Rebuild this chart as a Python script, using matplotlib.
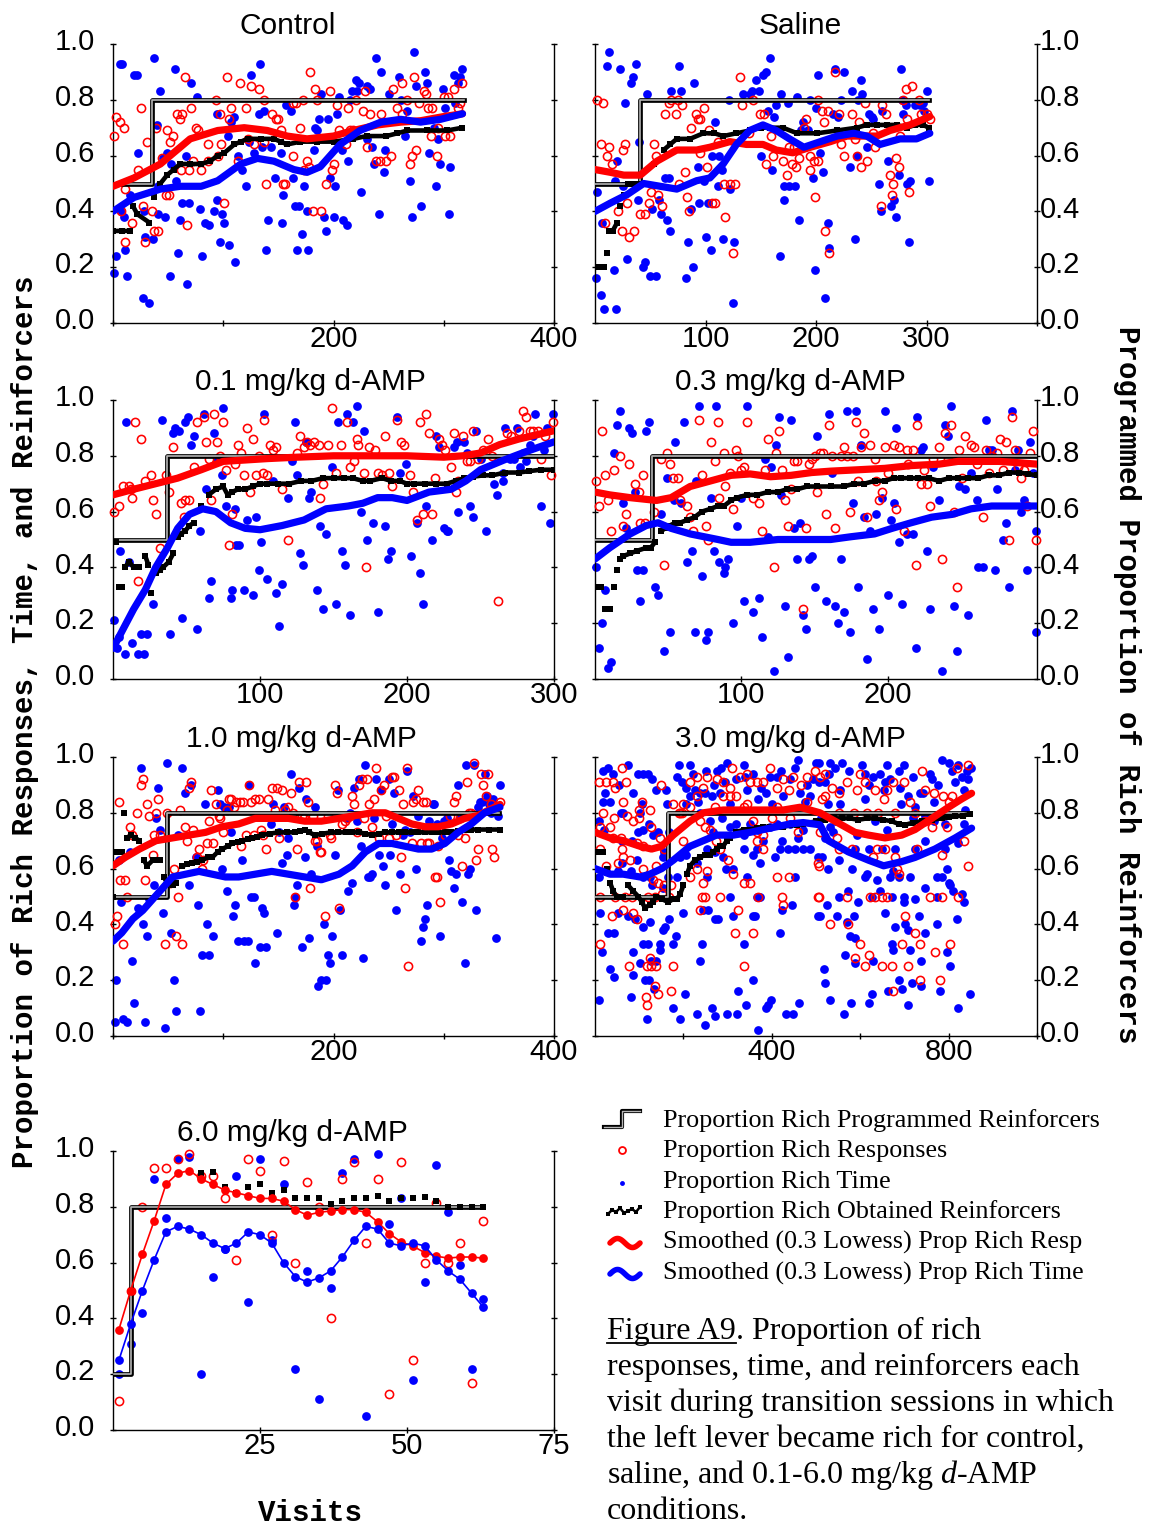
import numpy as np
import matplotlib
matplotlib.use("Agg")
import matplotlib.pyplot as plt
import matplotlib.patheffects as pe

plt.rcParams['font.family'] = ['Liberation Sans', 'DejaVu Sans']
plt.rcParams['mathtext.fontset'] = 'custom'
plt.rcParams['mathtext.rm'] = 'Liberation Serif'
plt.rcParams['mathtext.it'] = 'Liberation Serif:italic'

# ---------------- data: (visit, proportion) ----------------
# Control
ctrl_time = [(6,.93),(8,.93),(19,.89),(22,.89),(37,.95),(56,.91),(71,.86),(43,.83),(76,.81),(133,.93),(125,.89),(239,.95),(273,.97),(243,.90),(283,.90),(317,.91),(309,.89),(315,.88),(313,.86),(259,.88),(285,.86),(275,.85),(220,.87),(223,.86),(230,.85),(233,.84),(217,.83),(221,.83),(299,.84),(189,.82),(205,.81),(215,.80),(250,.82),(261,.80),(267,.76),(310,.79),(301,.77),(157,.78),(161,.76),(137,.76),(132,.75),(94,.75),(110,.74),(107,.72),(187,.73),(195,.73),(203,.75),(183,.70),(185,.69),(291,.70),(295,.66),(265,.67),(40,.71),(23,.61),(49,.61),(45,.59),(53,.57),(66,.60),(104,.67),(123,.65),(113,.60),(128,.61),(135,.63),(143,.63),(152,.61),(182,.62),(208,.62),(230,.66),(235,.63),(247,.62),(287,.61),(297,.57),(306,.56),(269,.51),(246,.54),(237,.57),(213,.58),(225,.47),(201,.49),(197,.52),(173,.49),(163,.52),(147,.52),(154,.46),(121,.49),(117,.55),(57,.51),(41,.49),(15,.46),(7,.40),(10,.38),(63,.43),(69,.43),(79,.41),(94,.44),(92,.40),(99,.39),(101,.36),(83,.36),(87,.35),(61,.37),(47,.38),(41,.39),(28,.40),(141,.37),(153,.36),(165,.42),(169,.42),(176,.40),(191,.38),(200,.38),(209,.37),(212,.35),(241,.39),(271,.38),(279,.42),(305,.39),(293,.49),(171,.32),(193,.33),(139,.26),(167,.26),(177,.26),(97,.29),(105,.28),(111,.22),(81,.24),(59,.25),(36,.30),(29,.31),(11,.26),(3,.24),(1,.18),(13,.17),(52,.17),(67,.14),(27,.09),(33,.07)]
ctrl_resp = [(3,.74),(6,.72),(10,.70),(1,.67),(25,.77),(31,.65),(39,.70),(49,.69),(54,.67),(52,.65),(58,.75),(63,.75),(61,.73),(65,.88),(71,.77),(75,.70),(77,.69),(86,.64),(93,.80),(97,.75),(103,.88),(107,.77),(105,.73),(115,.86),(121,.77),(125,.85),(132,.84),(122,.66),(128,.64),(137,.80),(144,.75),(148,.73),(150,.73),(152,.69),(137,.65),(163,.79),(166,.79),(172,.80),(170,.70),(179,.90),(183,.84),(185,.80),(197,.83),(203,.78),(213,.77),(205,.69),(215,.69),(218,.69),(220,.80),(229,.83),(227,.76),(233,.75),(243,.75),(254,.84),(262,.86),(258,.77),(262,.75),(267,.80),(273,.88),(278,.79),(282,.83),(284,.82),(286,.77),(289,.77),(300,.81),(304,.81),(309,.84),(317,.86),(315,.79),(313,.77),(295,.70),(288,.67),(301,.67),(306,.67),(294,.60),(271,.60),(275,.62),(269,.57),(252,.60),(248,.58),(242,.58),(239,.58),(230,.63),(211,.64),(200,.57),(199,.55),(193,.50),(176,.58),(178,.56),(163,.60),(154,.50),(156,.50),(139,.50),(113,.58),(95,.60),(86,.58),(80,.55),(73,.58),(69,.55),(62,.55),(48,.46),(51,.46),(44,.59),(23,.55),(11,.48),(27,.42),(35,.40),(17,.36),(7,.40),(37,.33),(41,.33),(67,.35),(101,.43),(11,.29),(29,.29),(181,.40),(189,.40),(98,.64),(173,.55)]
ctrl_obt = [(0,.33),(8,.33),(15,.33),(18,.42),(22,.39),(33,.36),(37,.45),(43,.50),(49,.53),(55,.55),(61,.57),(70,.57),(80,.57),(88,.58),(95,.60),(101,.61),(110,.64),(116,.65),(122,.66),(134,.66),(146,.66),(152,.65),(158,.64),(170,.65),(185,.65),(200,.65),(218,.66),(230,.67),(248,.67),(258,.68),(267,.69),(285,.69),(303,.69),(317,.70)]
ctrl_sresp = [(0,.49),(19,.52),(43,.57),(70,.66),(95,.69),(119,.70),(140,.69),(158,.67),(176,.66),(200,.67),(218,.69),(240,.71),(261,.72),(279,.725),(300,.74),(317,.75)]
ctrl_stime = [(0,.40),(19,.45),(43,.48),(61,.49),(80,.49),(95,.51),(116,.57),(131,.59),(146,.58),(164,.55),(176,.54),(188,.56),(206,.64),(224,.69),(243,.72),(261,.73),(279,.72),(297,.73),(317,.75)]
ctrl_prog_x = [0, 35, 318]
ctrl_prog_y = [0.5, 0.8, 0.8]

# Saline
sal_time = [(13,.97),(11,.92),(23,.91),(37,.93),(34,.88),(33,.86),(27,.79),(76,.92),(90,.86),(78,.83),(69,.83),(47,.82),(158,.95),(155,.90),(152,.89),(146,.87),(148,.83),(142,.83),(140,.82),(134,.82),(168,.82),(183,.81),(175,.79),(164,.78),(157,.76),(162,.74),(202,.89),(217,.91),(225,.90),(241,.87),(233,.83),(242,.82),(238,.80),(223,.80),(215,.75),(220,.74),(200,.77),(195,.80),(188,.72),(186,.69),(193,.69),(277,.91),(300,.83),(278,.80),(281,.78),(290,.78),(294,.78),(297,.79),(298,.76),(279,.75),(260,.76),(248,.75),(251,.74),(252,.73),(246,.63),(237,.60),(231,.56),(265,.58),(275,.53),(285,.51),(282,.50),(302,.51),(257,.50),(259,.40),(268,.42),(271,.44),(272,.38),(284,.29),(109,.72),(106,.60),(93,.56),(112,.60),(121,.80),(122,.48),(111,.49),(115,.55),(40,.65),(20,.58),(2,.47),(25,.49),(18,.51),(63,.52),(67,.52),(68,.33),(65,.37),(60,.39),(58,.44),(52,.41),(39,.44),(87,.41),(94,.43),(102,.43),(99,.51),(84,.29),(100,.31),(105,.26),(116,.30),(126,.29),(89,.20),(82,.16),(50,.17),(55,.17),(43,.20),(45,.22),(29,.23),(17,.19),(1,.16),(5,.10),(8,.05),(19,.05),(125,.07),(167,.24),(185,.37),(199,.19),(208,.09),(211,.36),(212,.27),(206,.54),(197,.52),(171,.49),(176,.49),(181,.49),(171,.44),(160,.55),(150,.60),(6,.36),(204,.61),(235,.30)]
sal_resp = [(2,.80),(7,.79),(5,.64),(13,.63),(11,.60),(15,.57),(25,.62),(27,.64),(9,.36),(21,.40),(24,.33),(31,.31),(35,.33),(29,.43),(41,.39),(45,.39),(49,.43),(51,.47),(57,.46),(53,.64),(55,.60),(61,.42),(63,.75),(67,.79),(69,.80),(73,.75),(75,.80),(79,.78),(81,.54),(76,.50),(83,.45),(85,.40),(87,.70),(91,.75),(93,.73),(95,.73),(99,.77),(101,.56),(103,.69),(95,.61),(106,.43),(109,.43),(111,.65),(118,.38),(117,.50),(122,.50),(127,.50),(125,.25),(131,.88),(133,.78),(143,.80),(139,.68),(149,.75),(153,.75),(159,.67),(155,.57),(161,.60),(170,.58),(174,.53),(178,.57),(176,.63),(180,.63),(182,.56),(185,.59),(189,.70),(191,.73),(195,.60),(195,.55),(198,.58),(202,.58),(199,.45),(202,.80),(205,.76),(207,.72),(211,.76),(217,.90),(208,.33),(212,.25),(221,.75),(223,.64),(225,.60),(233,.75),(235,.66),(237,.60),(241,.56),(239,.72),(244,.79),(246,.58),(252,.68),(253,.63),(259,.42),(260,.78),(263,.75),(267,.53),(270,.50),(269,.46),(272,.59),(275,.56),(281,.84),(287,.85),(293,.80),(295,.75),(279,.80),(284,.47),(276,.67),(282,.73),(303,.73),(300,.75)]
sal_obt = [(0,.20),(4,.20),(8,.20),(11,.25),(13,.33),(16,.33),(20,.36),(23,.42),(26,.46),(30,.50),(35,.50),(40,.50),(44,.50),(53,.57),(62,.62),(68,.64),(74,.66),(86,.66),(98,.68),(108,.68),(116,.67),(128,.68),(140,.69),(150,.70),(158,.70),(170,.70),(183,.68),(201,.68),(219,.69),(237,.70),(246,.71),(255,.71),(264,.71),(273,.71),(282,.70),(290,.71),(297,.71),(302,.70)]
sal_sresp = [(0,.55),(14,.54),(26,.53),(41,.53),(56,.58),(74,.62),(92,.62),(104,.63),(122,.65),(137,.64),(152,.64),(164,.62),(179,.61),(195,.63),(213,.65),(228,.67),(243,.67),(255,.67),(267,.69),(285,.71),(303,.74)]
sal_stime = [(0,.40),(14,.43),(29,.46),(44,.50),(59,.49),(74,.48),(92,.51),(104,.52),(116,.57),(128,.64),(140,.69),(152,.71),(164,.69),(176,.66),(189,.63),(204,.65),(219,.67),(234,.68),(246,.67),(258,.64),(276,.66),(291,.66),(303,.68)]
sal_prog_x = [0, 41, 302]
sal_prog_y = [0.5, 0.8, 0.8]

# 0.1 mg/kg
d01_time = [(1,.21),(3,.11),(4,.15),(8,.09),(13,.13),(17,.09),(21,.09),(19,.16),(23,.16),(27,.27),(5,.46),(9,.92),(11,.42),(33,.93),(39,.16),(41,.88),(42,.90),(45,.89),(47,.22),(49,.92),(51,.94),(53,.84),(55,.87),(57,.18),(59,.53),(62,.95),(63,.68),(65,.29),(67,.35),(69,.88),(71,.78),(74,.73),(75,.97),(77,.62),(80,.29),(81,.32),(83,.61),(84,.48),(86,.48),(89,.32),(91,.57),(95,.30),(97,.58),(99,.39),(101,.49),(103,.95),(105,.36),(109,.71),(111,.31),(113,.19),(115,.34),(119,.65),(122,.78),(124,.92),(125,.73),(127,.45),(129,.41),(131,.85),(133,.65),(135,.67),(139,.32),(141,.55),(143,.25),(145,.52),(149,.76),(152,.27),(153,.92),(156,.46),(158,.41),(159,.95),(161,.23),(163,.92),(166,.98),(169,.60),(171,.89),(173,.50),(177,.56),(180,.24),(185,.55),(187,.43),(189,.46),(193,.94),(195,.74),(199,.77),(203,.44),(207,.56),(209,.38),(211,.27),(213,.62),(217,.50),(220,.87),(222,.83),(225,.54),(227,.53),(228,.53),(232,.83),(235,.60),(239,.85),(241,.81),(243,.62),(245,.58),(247,.89),(250,.79),(254,.53),(259,.70),(261,.66),(265,.74),(267,.90),(270,.79),(273,.79),(275,.90),(279,.81),(281,.78),(284,.84),(287,.95),(291,.62),(293,.82),(295,.90),(297,.56),(299,.95),(286,.87),(265,.71),(277,.76),(234,.85)]
d01_resp = [(1,.60),(4,.62),(7,.69),(11,.69),(12,.68),(13,.65),(15,.92),(19,.86),(22,.71),(26,.73),(27,.64),(29,.59),(17,.35),(32,.47),(36,.73),(38,.67),(41,.83),(46,.63),(48,.58),(49,.64),(52,.64),(55,.76),(57,.92),(62,.94),(63,.85),(65,.79),(67,.64),(69,.95),(71,.85),(73,.80),(75,.92),(77,.75),(79,.48),(81,.59),(83,.77),(85,.84),(87,.81),(89,.73),(91,.90),(93,.67),(95,.86),(97,.73),(99,.80),(102,.74),(103,.93),(105,.73),(107,.84),(109,.82),(111,.83),(115,.68),(119,.50),(125,.81),(127,.87),(130,.83),(132,.85),(134,.84),(137,.85),(140,.84),(141,.65),(143,.70),(146,.84),(149,.97),(152,.74),(155,.84),(159,.92),(161,.76),(164,.78),(166,.86),(167,.84),(171,.74),(172,.40),(174,.83),(178,.82),(180,.74),(183,.73),(185,.87),(188,.74),(190,.69),(193,.93),(196,.85),(198,.84),(202,.73),(204,.67),(207,.57),(209,.92),(211,.59),(213,.95),(215,.88),(217,.59),(219,.72),(222,.86),(224,.84),(226,.82),(230,.76),(232,.88),(233,.67),(235,.71),(238,.87),(241,.78),(243,.78),(245,.89),(248,.79),(252,.82),(255,.86),(258,.80),(262,.28),(268,.88),(271,.87),(276,.89),(279,.96),(281,.94),(284,.89),(286,.89),(289,.89),(291,.79),(294,.87),(298,.73),(299,.92)]
d01_obt = [(2,.49),(4,.33),(6,.33),(8,.40),(11,.42),(14,.40),(16,.40),(18,.40),(22,.44),(24,.41),(26,.31),(29,.38),(32,.39),(34,.40),(38,.42),(41,.45),(44,.51),(46,.52),(49,.53),(52,.55),(55,.56),(60,.62),(65,.66),(70,.68),(75,.69),(78,.66),(81,.67),(85,.68),(90,.68),(95,.69),(100,.70),(105,.70),(112,.70),(120,.70),(128,.71),(135,.71),(143,.72),(150,.72),(157,.72),(163,.72),(170,.71),(175,.71),(183,.72),(189,.71),(195,.71),(200,.70),(205,.70),(212,.70),(220,.70),(227,.70),(233,.71),(239,.72),(245,.725),(252,.73),(258,.73),(267,.74),(276,.74),(283,.745),(291,.75),(300,.75)]
d01_sresp = [(0,.66),(14,.68),(29,.70),(44,.72),(60,.75),(75,.78),(90,.785),(105,.79),(125,.795),(150,.80),(175,.80),(200,.80),(225,.795),(238,.80),(250,.81),(263,.84),(276,.86),(300,.89)]
d01_stime = [(0,.11),(7,.18),(14,.25),(22,.32),(29,.40),(37,.47),(44,.54),(52,.59),(61,.61),(70,.60),(80,.56),(90,.54),(100,.535),(115,.55),(130,.57),(145,.61),(160,.62),(170,.63),(180,.65),(190,.65),(200,.64),(215,.67),(230,.68),(240,.71),(250,.75),(266,.785),(281,.815),(300,.85)]
d01_prog_x = [0, 37, 300]
d01_prog_y = [0.5, 0.8, 0.8]

# 0.3 mg/kg
d03_time = [(17,.96),(15,.91),(23,.90),(25,.88),(35,.89),(37,.92),(13,.81),(19,.63),(21,.54),(27,.67),(1,.40),(7,.32),(29,.39),(33,.39),(31,.28),(41,.33),(43,.30),(45,.59),(49,.72),(55,.85),(54,.64),(61,.92),(59,.63),(66,.46),(63,.42),(69,.71),(71,.98),(73,.37),(79,.65),(81,.46),(83,.98),(85,.42),(88,.38),(89,.40),(91,.43),(94,.20),(97,.55),(100,.65),(102,.28),(104,.98),(108,.24),(112,.29),(114,.15),(116,.79),(120,.76),(118,.51),(122,.03),(124,.84),(126,.94),(127,.66),(130,.26),(132,.08),(134,.93),(136,.54),(138,.43),(140,.56),(142,.23),(144,.18),(146,.43),(148,.44),(150,.33),(152,.87),(158,.28),(160,.95),(162,.74),(164,.26),(166,.20),(168,.43),(170,.24),(172,.96),(174,.17),(176,.63),(178,.96),(180,.33),(182,.84),(184,.58),(186,.07),(188,.53),(190,.25),(192,.59),(194,.18),(196,.65),(198,.96),(200,.30),(202,.57),(204,.63),(206,.90),(208,.49),(210,.27),(213,.52),(217,.52),(219,.11),(220,.94),(223,.82),(224,.83),(227,.46),(229,.25),(231,.76),(235,.64),(237,.03),(239,.91),(241,.87),(243,.98),(245,.26),(247,.10),(249,.69),(253,.68),(255,.23),(257,.74),(261,.64),(262,.40),(265,.40),(267,.93),(269,.82),(271,.82),(273,.39),(275,.68),(279,.50),(281,.56),(283,.33),(285,.96),(287,.75),(289,.82),(291,.60),(293,.64),(295,.39),(297,.85),(299,.74),(301,.17),(301,.53),(3,.11),(5,.20),(9,.04),(11,.06),(47,.10),(51,.17),(68,.17),(76,.14),(77,.17)]
d03_resp = [(1,.71),(3,.62),(5,.89),(7,.73),(9,.64),(13,.75),(17,.80),(23,.77),(11,.53),(19,.55),(21,.59),(27,.70),(30,.67),(31,.56),(33,.73),(34,.56),(40,.60),(45,.79),(49,.81),(47,.41),(51,.77),(53,.72),(57,.72),(58,.64),(63,.62),(65,.58),(67,.53),(71,.93),(73,.73),(76,.55),(77,.50),(79,.85),(82,.78),(84,.92),(85,.65),(88,.81),(89,.69),(92,.74),(94,.61),(96,.82),(98,.80),(100,.75),(102,.76),(104,.92),(108,.65),(112,.63),(114,.53),(116,.75),(118,.86),(122,.40),(124,.81),(126,.89),(128,.75),(130,.64),(132,.55),(134,.68),(136,.78),(138,.78),(142,.25),(144,.54),(146,.77),(148,.79),(150,.80),(152,.67),(154,.81),(156,.81),(158,.59),(160,.91),(162,.80),(164,.54),(168,.80),(170,.83),(172,.80),(174,.60),(176,.80),(178,.92),(180,.71),(182,.83),(184,.88),(186,.58),(188,.84),(191,.79),(192,.71),(194,.64),(196,.67),(198,.83),(200,.74),(204,.84),(206,.61),(208,.83),(211,.53),(213,.82),(214,.77),(217,.82),(219,.41),(220,.91),(223,.70),(225,.75),(227,.70),(229,.62),(231,.79),(235,.83),(237,.43),(239,.88),(241,.79),(243,.91),(245,.60),(247,.33),(249,.82),(251,.72),(253,.87),(255,.79),(257,.84),(259,.83),(261,.77),(265,.58),(267,.82),(269,.74),(271,.80),(275,.81),(277,.86),(279,.75),(281,.85),(283,.50),(285,.94),(287,.82),(289,.76),(291,.72),(293,.75),(295,.62),(297,.81),(299,.89),(301,.50)]
d03_obt = [(0,.33),(2,.33),(4,.33),(7,.25),(10,.25),(13,.33),(15,.39),(17,.43),(19,.44),(24,.45),(29,.46),(35,.47),(38,.47),(41,.49),(45,.53),(48,.54),(51,.55),(55,.56),(58,.56),(63,.57),(68,.58),(73,.60),(79,.61),(84,.62),(88,.62),(93,.64),(97,.65),(104,.66),(111,.66),(118,.67),(125,.67),(131,.68),(138,.68),(145,.69),(152,.69),(161,.69),(170,.69),(177,.70),(184,.70),(191,.71),(198,.71),(204,.72),(209,.72),(215,.72),(221,.72),(228,.72),(235,.71),(242,.72),(248,.72),(255,.72),(262,.72),(269,.73),(276,.73),(283,.74),(290,.74),(296,.735),(302,.73)]
d03_sresp = [(0,.67),(10,.66),(24,.65),(42,.64),(52,.65),(65,.69),(79,.71),(93,.73),(106,.735),(120,.725),(134,.73),(148,.74),(161,.745),(180,.75),(198,.755),(216,.765),(235,.77),(248,.78),(262,.78),(276,.78),(290,.775),(302,.77)]
d03_stime = [(0,.43),(10,.47),(24,.52),(35,.55),(43,.56),(52,.54),(65,.52),(84,.50),(93,.49),(106,.49),(125,.50),(143,.50),(161,.50),(175,.51),(191,.52),(203,.54),(216,.56),(230,.58),(244,.59),(257,.61),(271,.62),(287,.62),(302,.62)]
d03_prog_x = [0, 39, 302]
d03_prog_y = [0.5, 0.8, 0.8]

# 1.0 mg/kg
d10_time = [(2,.05),(3,.20),(5,.63),(7,.48),(9,.06),(13,.05),(15,.66),(17,.27),(19,.12),(23,.46),(25,.96),(27,.40),(29,.05),(31,.36),(33,.49),(37,.54),(39,.78),(41,.89),(43,.74),(45,.44),(47,.03),(49,.98),(53,.37),(55,.20),(57,.09),(59,.72),(63,.96),(65,.87),(69,.54),(71,.90),(75,.64),(77,.47),(79,.09),(81,.29),(83,.83),(85,.40),(87,.29),(91,.36),(95,.88),(97,.83),(99,.60),(101,.82),(103,.52),(105,.82),(107,.73),(109,.43),(111,.47),(113,.34),(117,.63),(119,.34),(122,.34),(123,.90),(125,.50),(128,.50),(129,.26),(133,.32),(135,.46),(137,.44),(139,.32),(143,.76),(145,.83),(149,.37),(151,.73),(153,.62),(155,.82),(158,.65),(159,.71),(161,.94),(164,.47),(165,.50),(167,.54),(169,.89),(171,.32),(174,.64),(175,.85),(178,.35),(180,.58),(183,.82),(185,.68),(186,.18),(189,.20),(191,.40),(193,.20),(195,.29),(197,.26),(199,.36),(201,.65),(204,.88),(206,.45),(208,.29),(211,.78),(213,.52),(215,.80),(217,.55),(219,.89),(221,.77),(223,.92),(225,.68),(227,.28),(229,.97),(231,.57),(233,.57),(235,.58),(237,.78),(239,.92),(241,.65),(243,.88),(245,.61),(247,.54),(250,.92),(251,.65),(253,.76),(255,.87),(257,.45),(260,.58),(263,.72),(265,.74),(267,.95),(269,.73),(272,.86),(275,.60),(277,.79),(279,.34),(281,.39),(283,.42),(285,.47),(287,.77),(290,.83),(291,.83),(294,.76),(297,.36),(298,.71),(300,.77),(303,.78),(305,.63),(307,.59),(309,.53),(311,.58),(313,.90),(315,.78),(317,.48),(319,.26),(320,.97),(322,.58),(324,.60),(327,.97),(329,.45),(331,.82),(333,.84),(335,.84),(337,.94),(339,.86),(341,.83),(343,.80),(345,.85),(347,.35),(349,.79),(351,.90)]
d10_resp = [(2,.40),(4,.43),(5,.84),(6,.56),(11,.56),(9,.33),(13,.50),(15,.75),(17,.72),(22,.80),(25,.90),(27,.92),(29,.56),(31,.83),(33,.79),(36,.65),(37,.72),(39,.80),(41,.85),(43,.72),(47,.33),(49,.80),(52,.55),(55,.60),(57,.36),(59,.50),(61,.81),(63,.33),(65,.75),(67,.70),(69,.89),(71,.91),(73,.74),(76,.64),(78,.67),(81,.60),(82,.63),(85,.69),(87,.77),(89,.88),(91,.69),(93,.83),(96,.79),(97,.78),(100,.73),(103,.81),(105,.85),(107,.85),(110,.82),(112,.84),(115,.84),(116,.68),(118,.84),(121,.72),(123,.90),(125,.84),(128,.72),(129,.85),(132,.85),(134,.74),(136,.72),(139,.67),(141,.85),(144,.89),(147,.81),(149,.89),(151,.71),(153,.88),(156,.81),(159,.82),(161,.87),(163,.80),(165,.50),(167,.67),(169,.91),(171,.79),(173,.78),(175,.91),(177,.84),(179,.53),(181,.79),(183,.70),(185,.70),(188,.66),(189,.66),(192,.43),(195,.79),(197,.72),(198,.71),(201,.90),(203,.87),(205,.46),(208,.76),(210,.77),(212,.78),(215,.79),(217,.86),(219,.83),(221,.73),(223,.90),(226,.92),(228,.78),(230,.92),(232,.83),(235,.75),(237,.85),(239,.96),(241,.71),(243,.88),(246,.90),(248,.79),(250,.71),(253,.93),(255,.93),(257,.72),(259,.88),(261,.64),(263,.83),(265,.53),(267,.96),(268,.25),(271,.69),(272,.84),(275,.85),(277,.88),(279,.69),(281,.84),(284,.84),(285,.69),(287,.69),(292,.57),(294,.57),(295,.68),(297,.48),(301,.72),(306,.79),(309,.84),(311,.86),(313,.72),(315,.78),(317,.61),(319,.71),(321,.91),(323,.80),(325,.80),(327,.98),(329,.63),(331,.67),(334,.94),(336,.90),(338,.86),(340,.94),(343,.83),(344,.67),(346,.64),(351,.84)]
d10_obt = [(0,.50),(2,.66),(5,.66),(8,.66),(10,.80),(13,.71),(16,.72),(20,.71),(24,.70),(28,.63),(31,.61),(36,.63),(40,.63),(43,.63),(46,.57),(49,.55),(54,.54),(57,.55),(63,.61),(67,.615),(72,.62),(76,.625),(81,.63),(86,.64),(90,.64),(95,.66),(99,.67),(104,.68),(108,.69),(113,.695),(117,.70),(122,.705),(126,.71),(131,.715),(135,.72),(142,.725),(150,.73),(158,.73),(165,.73),(170,.735),(174,.74),(178,.73),(183,.72),(190,.725),(198,.73),(204,.73),(211,.73),(217,.73),(223,.73),(229,.725),(235,.72),(241,.725),(247,.73),(253,.73),(259,.73),(265,.73),(271,.73),(277,.73),(283,.73),(289,.73),(295,.73),(301,.73),(307,.73),(313,.735),(319,.74),(325,.74),(331,.74),(341,.74),(351,.74)]
d10_sresp = [(0,.61),(11,.64),(24,.67),(39,.70),(54,.71),(69,.72),(84,.73),(99,.75),(114,.76),(129,.78),(144,.78),(159,.78),(174,.77),(189,.77),(205,.78),(220,.79),(235,.80),(247,.80),(259,.78),(271,.76),(283,.75),(295,.75),(307,.76),(319,.78),(331,.79),(351,.83)]
d10_stime = [(0,.34),(8,.37),(18,.42),(27,.45),(36,.49),(45,.53),(54,.57),(66,.58),(78,.59),(90,.58),(102,.57),(114,.57),(129,.58),(144,.59),(159,.58),(174,.57),(189,.56),(205,.58),(217,.61),(229,.66),(241,.69),(253,.69),(265,.68),(277,.67),(289,.67),(301,.69),(313,.73),(325,.76),(337,.80),(351,.82)]
d10_prog_x = [0, 49, 350]
d10_prog_y = [0.5, 0.8, 0.8]

# 3.0 mg/kg
d30_time = [(17,.95),(40,.94),(75,.97),(98,.94),(109,.94),(121,.94),(23,.87),(19,.84),(34,.84),(58,.80),(64,.80),(87,.87),(106,.83),(102,.80),(139,.88),(162,.83),(10,.77),(20,.74),(60,.70),(83,.70),(98,.73),(109,.74),(123,.76),(132,.72),(143,.73),(153,.64),(168,.73),(155,.66),(94,.63),(60,.62),(8,.57),(25,.59),(51,.59),(81,.59),(109,.57),(124,.57),(130,.54),(153,.53),(166,.57),(185,.57),(11,.44),(30,.37),(43,.37),(15,.30),(53,.44),(75,.43),(90,.42),(109,.39),(124,.41),(153,.38),(158,.39),(168,.42),(183,.36),(176,.33),(109,.33),(121,.33),(147,.33),(87,.30),(102,.26),(126,.27),(113,.20),(123,.20),(133,.17),(85,.22),(35,.24),(43,.21),(147,.31),(8,.13),(81,.14),(117,.06),(138,.27),(189,.97),(196,.91),(207,.89),(215,.97),(221,.94),(226,.88),(215,.86),(207,.83),(234,.84),(238,.87),(249,.87),(264,.86),(275,.95),(298,.98),(294,.91),(283,.87),(305,.83),(320,.92),(336,.97),(343,.88),(358,.94),(369,.85),(375,.89),(388,.87),(400,.83),(411,.93),(426,.86),(441,.92),(452,.96),(460,.99),(464,.87),(475,.84),(494,.92),(486,.86),(501,.98),(238,.80),(260,.77),(268,.73),(287,.78),(305,.75),(320,.76),(337,.72),(351,.76),(369,.74),(381,.70),(396,.75),(411,.76),(422,.70),(441,.76),(460,.71),(471,.74),(486,.67),(192,.64),(207,.65),(230,.62),(253,.67),(271,.66),(290,.64),(313,.60),(253,.57),(296,.60),(336,.67),(366,.67),(358,.65),(373,.62),(407,.64),(418,.67),(437,.67),(452,.67),(471,.67),(505,.64),(345,.57),(366,.50),(305,.50),(313,.43),(357,.43),(362,.43),(373,.50),(418,.37),(422,.45),(446,.47),(452,.57),(505,.43),(200,.44),(245,.45),(256,.45),(271,.42),(279,.42),(241,.33),(336,.33),(238,.27),(358,.20),(264,.10),(271,.07),(298,.08),(324,.16),(342,.11),(369,.02),(387,.10),(392,.11),(398,.13),(432,.08),(449,.08),(462,.12),(322,.08),(249,.04),(192,.06),(204,.15),(177,.10),(230,.08),
            (506,.98),(532,.98),(543,.96),(558,.98),(506,.91),(521,.91),(555,.88),(604,.97),(611,.94),(630,.93),(645,.94),(660,.97),(687,.95),(653,.88),(656,.91),(668,.92),(720,.93),(758,.94),(762,.92),(735,.87),(709,.86),(743,.87),(784,.99),(800,.98),(822,.97),(841,.95),(845,.92),(834,.88),(815,.91),(807,.95),(766,.84),(724,.82),(693,.83),(611,.85),(555,.83),(528,.83),(512,.78),(543,.77),(532,.75),(521,.71),(539,.73),(592,.72),(634,.77),(660,.74),(720,.78),(747,.79),(766,.77),(792,.76),(837,.81),(834,.76),(822,.69),(792,.67),(747,.70),(724,.67),(679,.67),(649,.67),(619,.67),(588,.67),(551,.63),(513,.64),(528,.60),(581,.60),(611,.57),(615,.58),(637,.56),(668,.57),(675,.59),(687,.57),(713,.57),(747,.53),(773,.57),(784,.57),(796,.60),(800,.55),(803,.54),(811,.52),(830,.51),(834,.48),(773,.50),(724,.49),(700,.48),(698,.50),(671,.50),(645,.52),(626,.50),(596,.48),(573,.52),(551,.50),(524,.47),(509,.43),(547,.43),(570,.41),(587,.43),(656,.44),(732,.43),(702,.40),(679,.39),(709,.38),(747,.37),(773,.40),(818,.42),(577,.36),(588,.35),(566,.29),(588,.26),(630,.27),(671,.33),(675,.31),(713,.31),(738,.27),(796,.30),(803,.25),(519,.24),(521,.19),(532,.13),(579,.12),(564,.08),(619,.12),(626,.15),(664,.16),(687,.20),(694,.17),(709,.11),(717,.19),(738,.18),(781,.16),(822,.10),(849,.15),
            (30,.96),(55,.90),(128,.92),(185,.93),(250,.95),(285,.96),(340,.93),(420,.95),(480,.90),(575,.95),(620,.90),(700,.97),(775,.90),(830,.93),(850,.96),(160,.88),(270,.90),(395,.93),(530,.94),(690,.89)]
d30_resp = [(8,.91),(25,.91),(40,.91),(70,.91),(45,.89),(19,.80),(43,.78),(72,.79),(100,.81),(124,.81),(106,.84),(64,.84),(87,.77),(100,.78),(126,.75),(146,.71),(94,.69),(109,.68),(58,.71),(34,.75),(11,.75),(26,.61),(53,.62),(79,.63),(40,.71),(11,.67),(60,.67),(64,.64),(155,.67),(139,.61),(109,.60),(132,.56),(143,.55),(155,.54),(173,.54),(168,.50),(151,.51),(11,.50),(45,.50),(68,.50),(83,.50),(121,.50),(136,.50),(38,.43),(64,.45),(85,.44),(94,.42),(11,.33),(78,.25),(117,.25),(126,.25),(139,.25),(124,.28),(136,.18),(115,.14),(118,.11),(143,.15),(172,.16),(177,.25),(200,.83),(215,.91),(230,.93),(245,.89),(253,.93),(275,.92),(290,.91),(305,.89),(328,.93),(343,.94),(351,.91),(366,.91),(381,.91),(396,.96),(411,.89),(426,.92),(449,.93),(467,.90),(479,.93),(498,.95),(192,.80),(200,.70),(215,.82),(238,.77),(249,.75),(260,.74),(271,.82),(290,.86),(305,.86),(320,.86),(336,.82),(343,.83),(358,.77),(366,.73),(381,.72),(400,.78),(411,.82),(441,.78),(460,.73),(479,.84),(505,.62),(215,.57),(230,.60),(253,.59),(274,.70),(283,.67),(302,.63),(313,.58),(336,.55),(351,.55),(366,.70),(381,.67),(411,.57),(422,.50),(440,.57),(426,.47),(241,.50),(249,.50),(283,.50),(245,.55),(238,.45),(324,.45),(317,.37),(357,.37),(336,.25),(369,.50),(505,.50),(177,.83),(189,.80),(196,.80),
            (509,.93),(521,.94),(536,.89),(551,.87),(570,.91),(592,.88),(611,.91),(634,.88),(653,.85),(675,.91),(698,.91),(713,.84),(747,.88),(766,.87),(788,.86),(807,.86),(800,.84),(784,.79),(724,.80),(679,.80),(641,.80),(615,.80),(585,.80),(551,.80),(513,.85),(509,.73),(547,.71),(551,.67),(581,.67),(637,.67),(656,.67),(679,.64),(630,.64),(747,.77),(762,.75),(796,.75),(834,.70),(845,.61),(784,.65),(728,.67),(683,.60),(687,.58),(660,.50),(649,.50),(634,.50),(622,.50),(570,.50),(506,.50),(532,.40),(573,.40),(600,.33),(619,.29),(611,.25),(588,.28),(649,.25),(671,.25),(694,.33),(709,.25),(724,.37),(702,.43),(735,.33),(769,.30),(803,.33),(781,.20),(735,.20),(675,.16),(506,.61),(758,.50),(784,.50),(822,.50),
            (60,.96),(150,.90),(230,.86),(310,.96),(440,.88),(520,.86),(600,.94),(660,.88),(740,.95),(820,.96),(845,.97)]
d30_obt = [(0,.66),(8,.66),(19,.66),(27,.60),(34,.55),(41,.52),(49,.50),(56,.50),(64,.50),(75,.54),(86,.52),(98,.50),(106,.48),(113,.46),(124,.47),(131,.48),(139,.50),(152,.49),(166,.48),(176,.49),(185,.49),(193,.51),(200,.54),(208,.58),(215,.61),(226,.63),(238,.64),(249,.65),(260,.65),(268,.66),(275,.67),(283,.68),(290,.68),(298,.70),(305,.71),(320,.73),(336,.74),(351,.74),(366,.745),(381,.75),(396,.75),(411,.75),(426,.75),(441,.755),(456,.757),(471,.76),(486,.765),(501,.77),(521,.775),(540,.78),(558,.78),(577,.78),(596,.775),(615,.78),(634,.78),(652,.775),(671,.77),(687,.76),(702,.757),(720,.765),(739,.77),(762,.775),(784,.78),(800,.785),(815,.787),(832,.79),(849,.796)]
d30_sresp = [(0,.73),(34,.71),(64,.70),(102,.68),(128,.67),(151,.68),(177,.72),(215,.77),(245,.80),(290,.81),(336,.81),(381,.81),(426,.81),(464,.82),(509,.80),(543,.77),(588,.73),(619,.72),(656,.71),(694,.72),(724,.74),(762,.78),(800,.82),(830,.85),(852,.87)]
d30_stime = [(0,.60),(34,.58),(64,.58),(102,.57),(124,.58),(151,.60),(177,.63),(215,.68),(245,.70),(275,.72),(313,.72),(351,.73),(396,.745),(441,.76),(471,.765),(509,.757),(528,.70),(573,.66),(619,.63),(653,.61),(694,.625),(724,.64),(769,.67),(815,.71),(852,.745)]
d30_prog_x = [0, 165, 848]
d30_prog_y = [0.5, 0.8, 0.8]

# 6.0 mg/kg
d60_time = [(1,.20),(3,.31),(5,.42),(7,.90),(9,.76),(11,.97),(13,.98),(15,.20),(17,.55),(19,.65),(21,.91),(23,.46),(25,.97),(27,.68),(29,.88),(31,.22),(33,.57),(35,.11),(37,.51),(39,.92),(41,.97),(43,.05),(45,.99),(47,.74),(49,.83),(51,.18),(53,.53),(55,.95),(57,.78),(59,.59),(61,.22),(63,.47)]
d60_resp = [(1,.105),(3,.50),(5,.80),(7,.94),(9,.94),(11,.97),(13,.99),(15,.91),(17,.91),(19,.83),(21,.61),(23,.97),(25,.93),(27,.70),(29,.965),(31,.60),(33,.89),(35,.80),(37,.40),(39,.90),(41,.96),(43,.67),(45,.90),(47,.13),(49,.96),(51,.25),(53,.60),(55,.815),(57,.60),(59,.67),(61,.17),(63,.75)]
d60_obt = [(15,.92),(17,.925),(19,.87),(21,.85),(23,.87),(25,.88),(27,.85),(29,.86),(31,.83),(33,.83),(35,.83),(37,.81),(39,.82),(41,.83),(43,.83),(45,.84),(47,.82),(49,.83),(51,.83),(53,.835),(55,.82),(57,.80),(59,.80),(61,.80),(63,.80)]
d60_sresp = [(1,.36),(3,.50),(5,.63),(7,.75),(9,.88),(11,.92),(13,.93),(15,.90),(17,.88),(19,.86),(21,.85),(23,.84),(25,.83),(27,.83),(29,.82),(31,.79),(33,.77),(35,.78),(37,.785),(39,.79),(41,.79),(43,.78),(45,.746),(47,.704),(49,.674),(51,.659),(53,.636),(55,.623),(57,.616),(59,.62),(61,.62),(63,.616)]
d60_stime = [(1,.25),(3,.38),(5,.50),(7,.61),(9,.71),(11,.73),(13,.72),(15,.70),(17,.67),(19,.65),(21,.67),(23,.71),(25,.70),(27,.67),(29,.60),(31,.55),(33,.53),(35,.545),(37,.57),(39,.62),(41,.68),(43,.73),(45,.72),(47,.67),(49,.66),(51,.67),(53,.66),(55,.61),(57,.57),(59,.54),(61,.49),(63,.44)]
d60_prog_x = [0.2, 3, 63]
d60_prog_y = [0.2, 0.8, 0.8]

legend_labels = ["Proportion Rich Programmed Reinforcers", "Proportion Rich Responses",
                 "Proportion Rich Time", "Proportion Rich Obtained Reinforcers",
                 "Smoothed (0.3 Lowess) Prop Rich Resp", "Smoothed (0.3 Lowess) Prop Rich Time"]
y_tick_values = [0.0, 0.2, 0.4, 0.6, 0.8, 1.0]


def unpack(pairs):
    a = np.array(pairs, dtype=float)
    return a[:, 0], a[:, 1]


def broken(x, y, gap=0.035):
    # break the obtained-reinforcer chain where it jumps
    xs, ys = [x[0]], [y[0]]
    for i in range(1, len(x)):
        if abs(y[i] - y[i - 1]) > gap:
            xs.append(np.nan)
            ys.append(np.nan)
        xs.append(x[i])
        ys.append(y[i])
    return xs, ys


W, H = 1150, 1529
fig = plt.figure(figsize=(W / 100, H / 100), dpi=100)


def px_rect(x0, x1, top, bottom):
    return [x0 / W, 1 - bottom / H, (x1 - x0) / W, (bottom - top) / H]


def draw_panel(rect, title, title_px, time, resp, obt, sresp, stime, prog_x, prog_y,
               side, xlim, xticks, xlabels, small=False):
    ax = fig.add_axes(rect)
    tx, ty = unpack(time)
    ax.plot(tx, ty, 'o', color='blue', ms=6.3, mew=0, zorder=2, clip_on=False)
    rx, ry = unpack(resp)
    ax.plot(rx, ry, 'o', mfc='none', mec='red', ms=5.9, mew=1.15, zorder=3, clip_on=False)
    ax.plot(prog_x, prog_y, drawstyle='steps-post', color='#b5b5b5', lw=1.2, zorder=4,
            path_effects=[pe.Stroke(linewidth=3.4, foreground='black'), pe.Normal()])
    ox, oy = unpack(obt)
    if small:
        ax.plot(ox, oy, 's', color='black', ms=4, mew=0, zorder=5)
        sx, sy = unpack(sresp)
        ax.plot(sx, sy, '-o', color='red', lw=1.2, ms=6.3, mew=0, zorder=6)
        sx, sy = unpack(stime)
        ax.plot(sx, sy, '-o', color='blue', lw=1.2, ms=6.3, mew=0, zorder=7)
    else:
        bx, by = broken(ox, oy)
        ax.plot(bx, by, '-', color='black', lw=3.3, solid_capstyle='butt', zorder=5)
        ax.plot(ox, oy, 's', color='black', ms=4.3, mew=0, zorder=5)
        sx, sy = unpack(sresp)
        ax.plot(sx, sy, color='red', lw=5.2, solid_capstyle='round', zorder=6)
        sx, sy = unpack(stime)
        ax.plot(sx, sy, color='blue', lw=5.2, solid_capstyle='round', zorder=7)

    ax.set_xlim(*xlim)
    ax.set_ylim(0, 1)
    ax.set_xticks(xticks)
    ax.set_xticklabels(xlabels)
    ax.set_yticks(y_tick_values)
    ax.set_yticklabels([])
    ax.spines['top'].set_visible(False)
    for s in ('left', 'right', 'bottom'):
        ax.spines[s].set_linewidth(1.0)
    ax.tick_params(axis='both', direction='inout', length=4.5, width=1, labelsize=21)
    ax.tick_params(axis='x', top=False, pad=-0.5)
    ax.tick_params(axis='y', left=True, right=True)
    # y tick labels sit slightly above their ticks in the original
    for v in y_tick_values:
        if side == 'left':
            ax.annotate('%.1f' % v, xy=(0, v), xycoords=('axes fraction', 'data'),
                        xytext=(-13, 3.5), textcoords='offset points',
                        ha='right', va='center_baseline', fontsize=21)
        else:
            ax.annotate('%.1f' % v, xy=(1, v), xycoords=('axes fraction', 'data'),
                        xytext=(2.2, 3.5), textcoords='offset points',
                        ha='left', va='center_baseline', fontsize=21)
    x0, x1 = (LX0, LX1) if side == 'left' else (RX0, RX1)
    ax.set_title(title, fontsize=21.5, pad=7, x=(title_px - x0) / (x1 - x0))
    return ax


LX0, LX1 = 113, 554
RX0, RX1 = 595, 1037

draw_panel(px_rect(LX0, LX1, 44, 323), "Control", 288, ctrl_time, ctrl_resp, ctrl_obt, ctrl_sresp, ctrl_stime,
           ctrl_prog_x, ctrl_prog_y, 'left', (0, 400), [0, 100, 200, 300, 400], ['', '', '200', '', '400'])
draw_panel(px_rect(RX0, RX1, 44, 323), "Saline", 800, sal_time, sal_resp, sal_obt, sal_sresp, sal_stime,
           sal_prog_x, sal_prog_y, 'right', (0, 400), [100, 200, 300, 400], ['100', '200', '300', ''])
draw_panel(px_rect(LX0, LX1, 400, 679), "0.1 mg/kg d-AMP", 310, d01_time, d01_resp, d01_obt, d01_sresp, d01_stime,
           d01_prog_x, d01_prog_y, 'left', (0, 300), [100, 200, 300], ['100', '200', '300'])
draw_panel(px_rect(RX0, RX1, 400, 679), "0.3 mg/kg d-AMP", 790, d03_time, d03_resp, d03_obt, d03_sresp, d03_stime,
           d03_prog_x, d03_prog_y, 'right', (0, 302), [100, 200], ['100', '200'])
draw_panel(px_rect(LX0, LX1, 757, 1036), "1.0 mg/kg d-AMP", 301, d10_time, d10_resp, d10_obt, d10_sresp, d10_stime,
           d10_prog_x, d10_prog_y, 'left', (0, 400), [0, 100, 200, 300, 400], ['', '', '200', '', '400'])
draw_panel(px_rect(RX0, RX1, 757, 1036), "3.0 mg/kg d-AMP", 790, d30_time, d30_resp, d30_obt, d30_sresp, d30_stime,
           d30_prog_x, d30_prog_y, 'right', (0, 1000), [200, 400, 600, 800, 1000], ['', '400', '', '800', ''])
draw_panel(px_rect(LX0, LX1, 1151, 1430), "6.0 mg/kg d-AMP", 292, d60_time, d60_resp, d60_obt, d60_sresp, d60_stime,
           d60_prog_x, d60_prog_y, 'left', (0, 75), [25, 50, 75], ['25', '50', '75'], small=True)

# overlay in pixel coordinates for labels, legend and caption
ov = fig.add_axes([0, 0, 1, 1], zorder=10)
ov.set_xlim(0, W)
ov.set_ylim(H, 0)
ov.set_axis_off()
ov.patch.set_alpha(0)

mono = dict(family='Liberation Mono', weight='bold', fontsize=21)
ov.text(25, 722, "Proportion of Rich Responses, Time, and Reinforcers", rotation=90,
        ha='center', va='center', **mono)
ov.text(1127, 685, "Programmed Proportion of Rich Reinforcers", rotation=270,
        ha='center', va='center', **mono)
ov.text(310, 1513, "Visits", ha='center', va='center', **mono)

# legend
serif = dict(family='Liberation Serif', fontsize=18.8)
base = [1127, 1157, 1188, 1218, 1249, 1280]
for lab, yb in zip(legend_labels, base):
    ov.text(663, yb, lab, ha='left', va='baseline', **serif)
ov.plot([604, 622, 622, 640], [1127, 1127, 1111, 1111], color='#b5b5b5', lw=1.0,
        path_effects=[pe.Stroke(linewidth=3.0, foreground='black'), pe.Normal()])
ov.plot([622], [1150], 'o', mfc='none', mec='red', ms=5, mew=1.3)
ov.plot([622], [1183], 'o', color='blue', ms=3.5, mew=0)
zx = np.linspace(608, 640, 9)
ov.plot(zx, [1214, 1210, 1212, 1208, 1213, 1211, 1209, 1212, 1207], '-s', color='black', lw=1.8, ms=2.4, mew=0)
wx = np.linspace(610, 640, 40)
wave = -4.5 * np.sin((wx - 610) / 30 * 2 * np.pi)
ov.plot(wx, 1243 + wave, color='red', lw=4, solid_capstyle='round')
ov.plot(wx, 1274 + wave, color='blue', lw=4, solid_capstyle='round')

# caption
cap = dict(family='Liberation Serif', fontsize=23)
t1 = ov.text(607, 1339, "Figure A9", ha='left', va='baseline', **cap)
fig.canvas.draw()
bb = t1.get_window_extent()
x_end = ov.transData.inverted().transform((bb.x1, bb.y0))[0]
ov.plot([607, x_end], [1343, 1343], color='black', lw=1.3)
ov.text(x_end, 1339, ". Proportion of rich", ha='left', va='baseline', **cap)
cap_lines = ["responses, time, and reinforcers each",
             "visit during transition sessions in which",
             "the left lever became rich for control,",
             r"saline, and 0.1-6.0 mg/kg $\mathit{d}$-AMP",
             "conditions."]
for line, yb in zip(cap_lines, [1375, 1411, 1447, 1483, 1519]):
    ov.text(607, yb, line, ha='left', va='baseline', **cap)

fig.savefig("out.png", dpi=100)
